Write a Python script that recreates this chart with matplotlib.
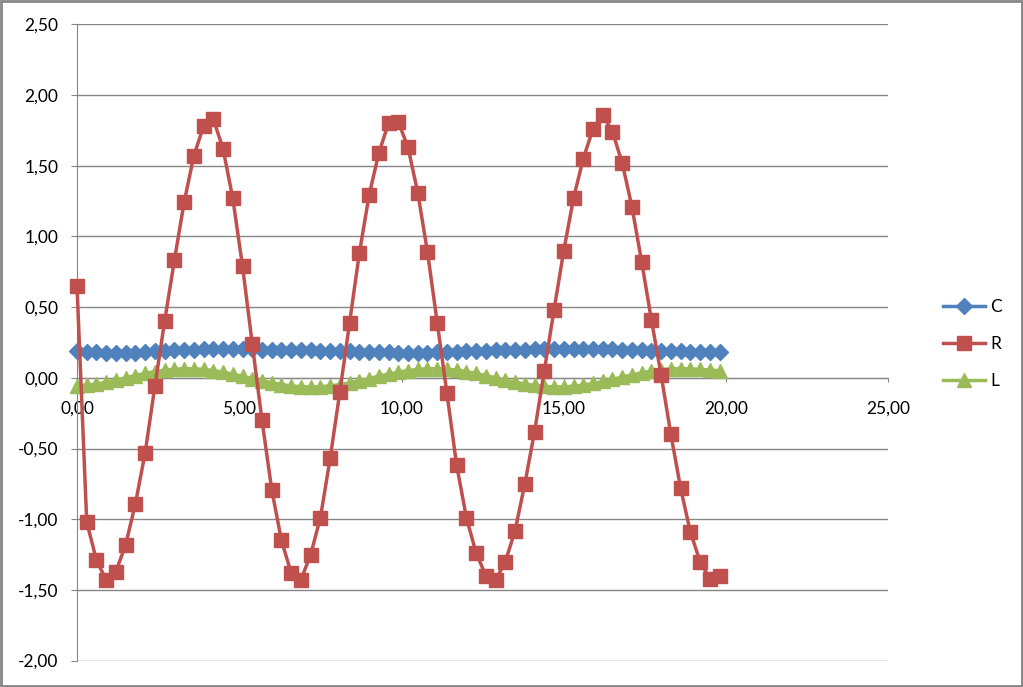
import numpy as np
import matplotlib.pyplot as plt
from matplotlib.patches import Rectangle
from matplotlib.ticker import FuncFormatter, MultipleLocator

plt.rcParams['font.family'] = ['Lato', 'DejaVu Sans']

# time axis (step 0,3)
t = [0.0, 0.3, 0.6, 0.9, 1.2, 1.5, 1.8, 2.1, 2.4, 2.7,
     3.0, 3.3, 3.6, 3.9, 4.2, 4.5, 4.8, 5.1, 5.4, 5.7,
     6.0, 6.3, 6.6, 6.9, 7.2, 7.5, 7.8, 8.1, 8.4, 8.7,
     9.0, 9.3, 9.6, 9.9, 10.2, 10.5, 10.8, 11.1, 11.4, 11.7,
     12.0, 12.3, 12.6, 12.9, 13.2, 13.5, 13.8, 14.1, 14.4, 14.7,
     15.0, 15.3, 15.6, 15.9, 16.2, 16.5, 16.8, 17.1, 17.4, 17.7,
     18.0, 18.3, 18.6, 18.9, 19.2, 19.5, 19.8]

C = [0.188, 0.185, 0.180, 0.176, 0.173, 0.174, 0.178, 0.183, 0.187, 0.191,
     0.195, 0.198, 0.200, 0.202, 0.204, 0.205, 0.204, 0.203, 0.201, 0.200,
     0.199, 0.198, 0.197, 0.196, 0.195, 0.193, 0.191, 0.189, 0.187, 0.185,
     0.183, 0.181, 0.179, 0.178, 0.177, 0.176, 0.177, 0.179, 0.181, 0.184,
     0.187, 0.190, 0.193, 0.195, 0.197, 0.199, 0.200, 0.201, 0.202, 0.203,
     0.204, 0.205, 0.205, 0.204, 0.203, 0.201, 0.199, 0.197, 0.195, 0.193,
     0.191, 0.189, 0.187, 0.185, 0.183, 0.182, 0.181]

R = [0.65, -1.02, -1.29, -1.43, -1.37, -1.18, -0.89, -0.53, -0.06, 0.40,
     0.83, 1.24, 1.57, 1.78, 1.83, 1.62, 1.27, 0.79, 0.24, -0.30,
     -0.79, -1.15, -1.38, -1.43, -1.25, -0.99, -0.57, -0.10, 0.39, 0.88,
     1.29, 1.59, 1.80, 1.81, 1.63, 1.31, 0.89, 0.39, -0.11, -0.62,
     -0.99, -1.24, -1.40, -1.43, -1.30, -1.08, -0.75, -0.38, 0.05, 0.48,
     0.90, 1.27, 1.55, 1.76, 1.86, 1.74, 1.52, 1.21, 0.82, 0.41,
     0.02, -0.40, -0.78, -1.09, -1.30, -1.42, -1.40]

L = [-0.055, -0.052, -0.044, -0.031, -0.016, 0.000, 0.016, 0.031, 0.044, 0.054,
     0.061, 0.065, 0.064, 0.060, 0.051, 0.040, 0.026, 0.011, -0.005, -0.021,
     -0.035, -0.048, -0.057, -0.063, -0.065, -0.063, -0.057, -0.048, -0.035, -0.021,
     -0.005, 0.011, 0.026, 0.040, 0.051, 0.060, 0.064, 0.065, 0.061, 0.054,
     0.044, 0.031, 0.016, 0.000, -0.016, -0.031, -0.044, -0.054, -0.061, -0.065,
     -0.064, -0.060, -0.051, -0.040, -0.026, -0.011, 0.005, 0.021, 0.035, 0.048,
     0.057, 0.063, 0.065, 0.063, 0.060, 0.055, 0.050]

grey = '#868686'

fig = plt.figure(figsize=(10.23, 6.87), dpi=100)
ax = fig.add_axes([77 / 1023, 1 - 660.6 / 687, (888.3 - 77) / 1023, (660.6 - 24.3) / 687])

ax.plot(t, C, color='#4F81BD', lw=2.5, marker='D', ms=8.5, label='C', zorder=3, clip_on=False)
ax.plot(t, L, color='#9BBB59', lw=2.5, marker='^', ms=10.5, label='L', zorder=4, clip_on=False)
ax.plot(t, R, color='#C0504D', lw=2.5, marker='s', ms=10.5, label='R', zorder=5, clip_on=False)

ax.set_xlim(0, 25)
ax.set_ylim(-2, 2.5)
ax.xaxis.set_major_locator(MultipleLocator(5))
ax.yaxis.set_major_locator(MultipleLocator(0.5))
comma = FuncFormatter(lambda v, p: f'{v:.2f}'.replace('.', ','))
ax.xaxis.set_major_formatter(comma)
ax.yaxis.set_major_formatter(comma)

ax.grid(axis='y', color=grey, lw=1)
ax.set_axisbelow(True)
for s in ['top', 'right']:
    ax.spines[s].set_visible(False)
ax.spines['bottom'].set_position(('data', 0))
ax.spines['bottom'].set_color(grey)
ax.spines['left'].set_color(grey)
ax.spines['bottom'].set_zorder(2)

ax.tick_params(axis='y', direction='out', length=4.3, color=grey, pad=9, labelsize=12.5)
ax.tick_params(axis='x', direction='out', length=3, color=grey, pad=13.5, labelsize=12.5)

h, lab = ax.get_legend_handles_labels()
order = [0, 2, 1]
fig.legend([h[i] for i in order], [lab[i] for i in order], loc='center left',
           bbox_to_anchor=(943 / 1023, 1 - 344 / 687), bbox_transform=fig.transFigure,
           frameon=False, fontsize=12.5, borderpad=0, borderaxespad=0,
           handlelength=2.4, handletextpad=0.3, labelspacing=1.2)

fig.patches.append(Rectangle((0.001, 0.0015), 0.998, 0.997, transform=fig.transFigure,
                             fill=False, edgecolor=grey, lw=2))

fig.savefig('out.png', dpi=100)
